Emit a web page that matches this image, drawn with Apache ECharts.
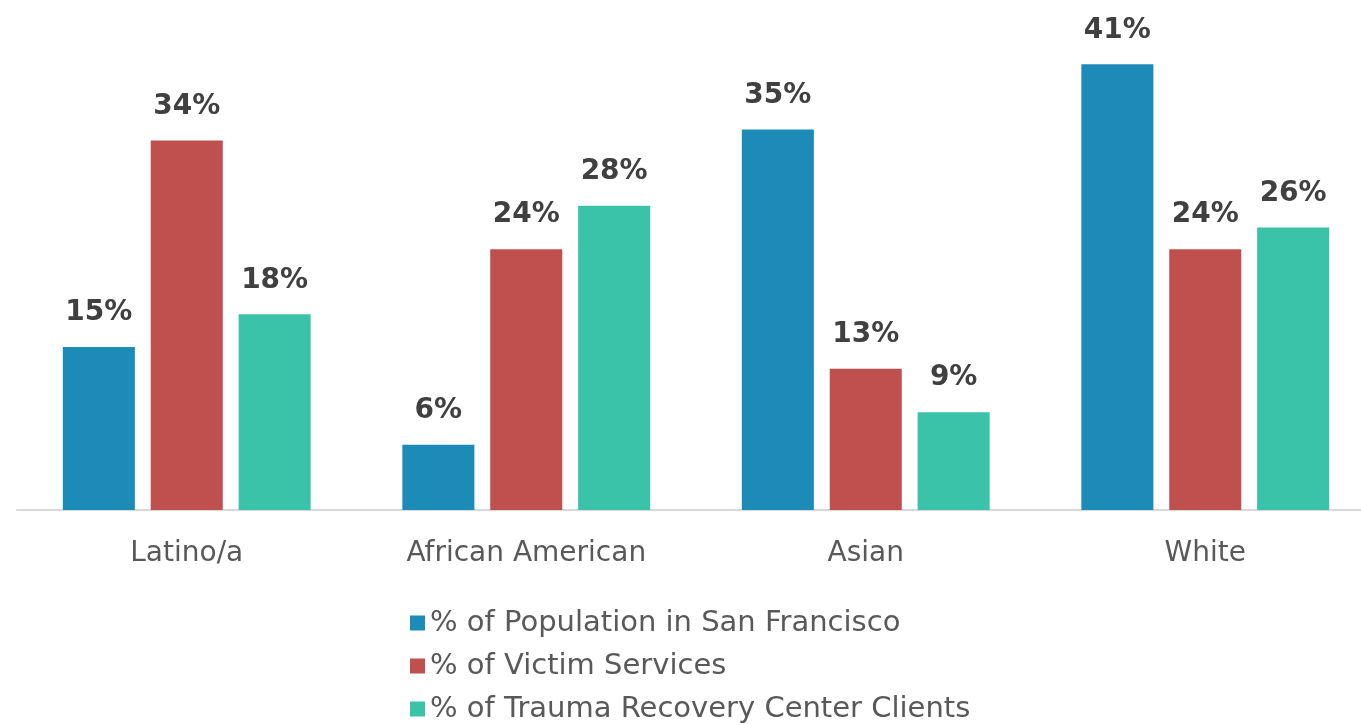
<!DOCTYPE html>
<html>
<head>
<meta charset="utf-8">
<script src="https://cdn.jsdelivr.net/npm/echarts@6/dist/echarts.min.js"></script>
<style>
  html, body { margin: 0; padding: 0; background: #fff; }
  #main { width: 1361px; height: 725px; }
</style>
</head>
<body>
<div id="main"></div>
<script>
const categories = ['Latino/a', 'African American', 'Asian', 'White']
const seriesNames = [
  '% of Population in San Francisco',
  '% of Victim Services',
  '% of Trauma Recovery Center Clients'
]
const population = [15, 6, 35, 41]
const victimServices = [34, 24, 13, 24]
const trcClients = [18, 28, 9, 26]

const colors = ['#1d8bb8', '#c0504d', '#3ac3a9']
const font = 'DejaVu Sans'

const chart = echarts.init(document.getElementById('main'))

const makeSeries = (name, data, color) => ({
  name: name,
  type: 'bar',
  data: data,
  barGap: '22%',
  barCategoryGap: '27%',
  itemStyle: { color: color },
  label: {
    show: true,
    position: 'top',
    distance: 20,
    formatter: '{c}%',
    color: '#404040',
    fontFamily: font,
    fontWeight: 'bold',
    fontSize: 28
  }
})

chart.setOption({
  animation: false,
  color: colors,
  grid: {
    left: 17,
    width: 1358,
    top: 10,
    bottom: 215,
    outerBoundsMode: 'none'
  },
  legend: {
    orient: 'vertical',
    left: 405,
    top: 603,
    height: 140,
    itemWidth: 15,
    itemHeight: 15,
    itemGap: 13,
    itemStyle: { borderWidth: 0 },
    icon: 'rect',
    textStyle: {
      fontFamily: font,
      fontSize: 29,
      color: '#595959',
      lineHeight: 30
    },
    data: seriesNames
  },
  xAxis: {
    type: 'category',
    data: categories,
    axisLine: { lineStyle: { color: '#d9d9d9', width: 2 } },
    axisTick: { show: false },
    axisLabel: {
      margin: 30,
      fontFamily: font,
      fontSize: 28,
      color: '#595959'
    }
  },
  yAxis: {
    type: 'value',
    min: 0,
    max: 46,
    show: false,
    splitLine: { show: false }
  },
  series: [
    makeSeries(seriesNames[0], population, colors[0]),
    makeSeries(seriesNames[1], victimServices, colors[1]),
    makeSeries(seriesNames[2], trcClients, colors[2])
  ]
})
</script>
</body>
</html>
